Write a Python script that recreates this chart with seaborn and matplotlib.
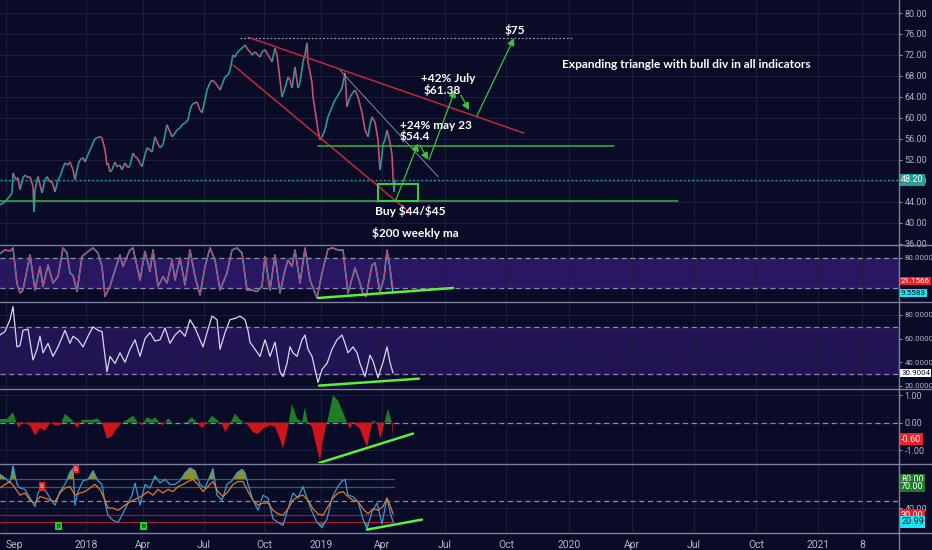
import matplotlib
matplotlib.use("Agg")
import matplotlib.pyplot as plt
import seaborn as sns
import numpy as np
from matplotlib.collections import LineCollection
from matplotlib.lines import Line2D
from matplotlib.patches import Rectangle

# ---------------- data ----------------
price_t = [0, 5, 10, 12, 13, 16, 18, 20, 23, 25, 28, 30, 33, 34, 35, 38, 42, 45, 47, 50, 52, 55, 58, 60,
           63, 65, 68, 70, 73, 75, 78, 80, 83, 85, 88, 90, 93, 95, 97, 100, 102, 105, 107, 108, 110, 112,
           115, 117, 120, 122, 125, 128, 130, 133, 135, 137, 140, 142, 145, 147, 150, 152, 155, 157, 160,
           163, 165, 167, 170, 172, 175, 177, 180, 182, 185, 188, 190, 192, 195, 197, 200, 202, 205, 207,
           210, 212, 215, 217, 220, 222, 225, 228, 230, 233, 235, 237, 240, 242, 245, 248, 250, 252, 255,
           258, 260, 262, 265, 268, 270, 272, 275, 277, 278, 280, 282, 285, 288, 290, 292, 295, 298, 300,
           303, 305, 307, 308, 310, 312, 313, 315, 318, 320, 322, 325, 328, 330, 332, 335, 337, 340, 342,
           345, 347, 350, 352, 355, 358, 360, 362, 365, 368, 370, 372, 375, 378, 380, 382, 383, 385, 387,
           390, 392, 393, 394, 395]
price_close = [43.4, 44.0, 45.1, 45.7, 49.5, 48.2, 48.6, 46.3, 48.6, 49.1, 48.6, 48.8, 46.9, 42.1, 46.3,
               48.8, 45.7, 48.2, 48.8, 47.8, 47.8, 45.9, 48.2, 48.8, 50.5, 51.4, 51.0, 51.6, 50.1, 48.2,
               51.0, 52.0, 52.4, 51.6, 53.0, 53.9, 55.2, 56.0, 56.2, 56.4, 56.2, 53.9, 51.0, 51.4, 49.7,
               50.1, 51.6, 50.7, 51.0, 50.1, 51.4, 50.5, 50.9, 53.3, 52.6, 52.4, 51.4, 50.7, 53.0, 54.3,
               53.9, 53.5, 56.4, 55.4, 54.3, 54.9, 56.8, 58.7, 57.3, 56.4, 57.1, 57.7, 58.1, 58.7, 59.0,
               59.6, 61.5, 62.5, 62.9, 63.0, 61.5, 61.0, 63.4, 65.3, 66.7, 67.2, 66.7, 66.3, 65.3, 66.3,
               67.8, 68.2, 69.1, 72.0, 71.6, 72.4, 73.0, 73.3, 73.9, 73.0, 72.6, 72.0, 72.6, 72.0, 71.6,
               72.6, 73.0, 72.0, 71.4, 70.7, 73.3, 72.0, 70.5, 67.2, 64.0, 65.7, 67.8, 67.2, 65.7, 69.7,
               65.7, 66.7, 70.7, 72.0, 74.3, 70.5, 68.8, 66.7, 64.0, 61.5, 57.7, 55.8, 56.4, 57.7, 60.2,
               61.1, 62.1, 63.4, 64.0, 65.0, 65.7, 68.6, 62.1, 64.0, 64.6, 65.3, 64.0, 62.5, 61.0, 57.7,
               56.4, 58.7, 60.2, 59.2, 55.8, 50.1, 53.0, 55.0, 55.8, 57.7, 55.2, 53.0, 48.8, 45.9, 48.2]

stoch_t = [0, 5, 10, 13, 17, 20, 23, 30, 35, 40, 43, 48, 53, 58, 63, 67, 70, 73, 77, 82, 88, 93, 98, 102,
           105, 110, 115, 120, 123, 127, 130, 133, 137, 140, 145, 150, 153, 158, 163, 167, 172, 175, 180,
           185, 190, 195, 200, 205, 210, 215, 220, 227, 232, 237, 242, 247, 252, 257, 262, 265, 270, 275,
           280, 285, 288, 292, 295, 300, 305, 310, 317, 322, 328, 333, 338, 343, 348, 355, 360, 363, 366,
           372, 375, 380, 384, 387, 390, 393]
stoch_k = [89, 96, 94, 100, 29, 10, 16, 86, 16, 63, 23, 66, 30, 43, 100, 90, 50, 45, 13, 83, 93, 100, 90,
           63, 3, 23, 56, 86, 63, 83, 96, 100, 63, 36, 93, 53, 96, 23, 43, 30, 76, 36, 80, 26, 96, 43, 6,
           63, 100, 76, 16, 50, 96, 100, 90, 16, 16, 13, 23, 83, 16, 86, 10, 56, 76, 63, 96, 30, 100, 36,
           0, 50, 98, 100, 96, 96, 10, 60, 30, 8, 3, 66, 70, 12, 40, 96, 60, 9.56]
stoch_d = stoch_k[:-1] + [21.16]

rsi_t = [0, 5, 10, 13, 17, 20, 23, 28, 33, 37, 40, 43, 48, 53, 58, 65, 70, 73, 78, 83, 88, 93, 98, 102,
         105, 107, 110, 115, 120, 125, 130, 135, 140, 145, 150, 155, 160, 165, 170, 175, 180, 185, 190,
         195, 200, 203, 207, 212, 217, 220, 225, 230, 235, 240, 245, 248, 250, 255, 260, 265, 270, 275,
         280, 283, 287, 290, 293, 297, 302, 305, 308, 312, 315, 318, 322, 327, 332, 337, 342, 345, 348,
         353, 357, 360, 365, 370, 373, 378, 383, 387, 390, 393]
rsi_v = [63, 66, 76, 87, 53, 54, 67, 68, 42, 51, 62, 48, 56, 45, 53, 67, 56, 62, 59, 53, 62, 70, 67, 66,
         45, 32, 45, 39, 48, 40, 51, 59, 45, 60, 65, 58, 59, 69, 56, 63, 67, 62, 76, 69, 59, 53, 65, 79,
         76, 51, 65, 76, 77, 79, 76, 67, 57, 51, 45, 59, 45, 57, 32, 28, 39, 53, 48, 45, 59, 63, 51, 45,
         34, 23, 34, 39, 51, 59, 63, 56, 48, 53, 48, 39, 28, 46, 41, 27, 40, 53, 40, 30.9]

osc_t = [0, 7, 13, 18, 23, 30, 35, 40, 45, 50, 55, 60, 65, 72, 77, 82, 87, 92, 97, 102, 107, 112, 117,
         122, 127, 133, 138, 142, 147, 152, 155, 160, 163, 168, 173, 182, 187, 192, 197, 202, 207, 212,
         217, 222, 225, 230, 235, 240, 247, 253, 258, 263, 270, 275, 280, 283, 287, 292, 297, 302, 305,
         308, 312, 317, 320, 323, 328, 333, 338, 343, 347, 350, 353, 360, 367, 370, 373, 377, 380, 383,
         388, 392, 393]
osc_v = [0.13, 0.13, 0.38, -0.17, 0, -0.1, -0.47, -0.2, -0.3, 0, -0.1, -0.1, 0.32, 0.1, -0.2, 0.1, 0.1,
         0.1, 0.15, 0, -0.59, -0.5, -0.2, 0, 0.1, 0.25, 0, -0.1, 0.2, 0.1, 0.2, 0, -0.1, 0.15, 0, 0, 0.03,
         0.2, 0, -0.2, 0, 0.25, 0.1, -0.05, -0.35, -0.05, 0.33, 0.1, -0.05, -0.35, -0.41, -0.23, -0.1,
         -0.16, -0.59, -0.96, -0.35, 0.68, 0.15, 0.03, 0.56, 0, -0.16, -0.96, -1.38, -0.6, 0.15, 1.0, 0.8,
         0.38, 0, -0.23, 0, -0.23, -0.9, -0.35, 0.08, 0, -0.59, -0.23, 0.5, 0, -0.6]

mfi_t = [0, 5, 10, 13, 17, 20, 25, 30, 35, 38, 42, 47, 52, 55, 60, 65, 70, 73, 75, 78, 83, 88, 93, 98,
         102, 105, 108, 113, 118, 122, 127, 132, 135, 140, 145, 150, 155, 160, 165, 170, 175, 180, 185,
         190, 195, 200, 205, 208, 213, 217, 222, 227, 232, 237, 242, 245, 248, 253, 258, 263, 268, 273,
         278, 283, 288, 293, 298, 303, 307, 312, 317, 322, 327, 332, 337, 342, 345, 348, 353, 358, 363,
         367, 372, 377, 382, 387, 390, 393]
mfi_blue = [87, 82, 75, 99, 73, 68, 66, 54, 42, 61, 70, 61, 49, 44, 63, 73, 90, 95, 44, 63, 78, 80, 92,
            78, 73, 47, 30, 23, 20, 30, 44, 58, 75, 44, 73, 68, 85, 75, 80, 73, 73, 78, 89, 96, 92, 73,
            68, 78, 95, 58, 51, 73, 78, 89, 94, 89, 73, 51, 37, 58, 54, 25, 20, 16, 39, 61, 54, 70, 54,
            35, 20, 13, 25, 54, 68, 78, 80, 58, 56, 49, 25, 11, 35, 47, 18, 54, 35, 21]
orange_t = [0, 5, 10, 15, 20, 25, 30, 35, 40, 45, 50, 55, 60, 65, 70, 75, 80, 85, 90, 95, 100, 105, 108,
            113, 118, 123, 128, 133, 138, 143, 148, 153, 158, 163, 168, 173, 178, 183, 188, 193, 198,
            203, 208, 213, 218, 223, 228, 233, 238, 243, 248, 253, 258, 263, 268, 273, 278, 283, 288,
            293, 298, 303, 308, 313, 318, 323, 328, 333, 338, 343, 348, 353, 358, 363, 368, 373, 378,
            383, 387, 390, 393]
mfi_orange = [68, 73, 77, 68, 58, 61, 51, 47, 56, 54, 51, 49, 61, 68, 70, 58, 61, 63, 68, 73, 66, 51,
              40, 40, 37, 42, 47, 51, 54, 58, 63, 58, 66, 61, 66, 63, 70, 73, 77, 80, 73, 63, 70, 77,
              63, 56, 63, 73, 77, 77, 63, 51, 44, 47, 47, 37, 32, 30, 39, 51, 56, 58, 51, 39, 32, 30,
              42, 54, 61, 63, 56, 51, 49, 39, 32, 39, 37, 42, 54, 44, 32]

# markers on bottom panel
sig_t = [42, 76, 58, 143]
sig_v = [70, 94, 15, 15]
sig_lab = ["S", "S", "B", "B"]

# drawing (trend lines etc.) in data units
res_top = ([240, 572], [75.3, 75.3])
tri_upper = ([248, 524], [75.4, 57.1])
tri_lower = ([233, 410], [70.1, 41.9])
thin_diag = ([340, 438], [69.1, 48.8])
green_mid = ([318, 614], [54.7, 54.7])
green_low = ([0, 678], [44.2, 44.2])
last_price = 48.20
buy_box = (378, 44.2, 40, 3.2)
arrows = [((396, 44.4), (418, 55.1)), ((420, 54.8), (428, 52.0)), ((429, 52.0), (455, 65.3)),
          ((461, 64.3), (469, 61.5)), ((477, 60.4), (514, 75.2))]
div_stoch = ([318, 453], [0, 20])
div_rsi = ([319, 419], [20.3, 26.2])
div_osc = ([319, 413], [-1.47, -0.4])
div_mfi = ([367, 422], [10, 24])

x_tick_pos = [6, 86, 143, 204, 264, 321, 382, 445, 506, 569, 632, 694, 756, 818, 862]
x_tick_labels = ["Sep", "2018", "Apr", "Jul", "Oct", "2019", "Apr", "Jul", "Oct", "2020", "Apr", "Jul",
                 "Oct", "2021", "8"]

# ---------------- style ----------------
BG = "#0a0b27"
GRID = "#1b1d3c"
AXTXT = "#b2b5be"
SEP = "#7d80a0"
DASH = "#8a8cab"

sns.set_theme(style="dark", rc={"axes.facecolor": BG, "figure.facecolor": BG})
plt.rcParams["font.family"] = ["Roboto", "DejaVu Sans"]

W, H = 932, 550
fig = plt.figure(figsize=(W / 100, H / 100), dpi=100)
AXW = 899 / W


def mkax(top, bottom):
    return fig.add_axes([0, 1 - bottom / H, AXW, (bottom - top) / H])


ax0 = mkax(0, 244)
ax1 = mkax(245, 301)
ax2 = mkax(302, 388)
ax3 = mkax(389, 463)
ax4 = mkax(464, 532)
axes = [ax0, ax1, ax2, ax3, ax4]

for ax in axes:
    ax.set_facecolor(BG)
    ax.set_xlim(0, 899)
    for s in ax.spines.values():
        s.set_visible(False)
    ax.set_xticks(x_tick_pos)
    ax.grid(True, axis="both", color=GRID, linewidth=0.8)
    ax.yaxis.tick_right()
    ax.tick_params(axis="y", colors=AXTXT, labelsize=6.5, length=2.5, width=0.6, pad=1.5, labelcolor=AXTXT)
    ax.tick_params(axis="x", length=0, labelbottom=False)
    ax.set_xlabel("")
    ax.set_ylabel("")
for ax in (ax1, ax2):
    ax.tick_params(axis="y", labelsize=5.7)

ax4.tick_params(axis="x", labelbottom=True, colors=AXTXT, labelsize=7.5, length=3, width=0.6, pad=3)
ax4.set_xticklabels(x_tick_labels)
first_lab = ax4.get_xticklabels()[0]
first_lab.set_ha("left")


def tag(ax, y, text, fc, tc="white", size=6.5):
    ax.annotate(text, xy=(1, y), xycoords=("axes fraction", "data"), xytext=(1.5, 0),
                textcoords="offset points", ha="left", va="center", fontsize=size, color=tc,
                bbox=dict(boxstyle="square,pad=0.15", fc=fc, ec="none"), annotation_clip=False, zorder=10)


def dashed(ax, y):
    ax.axhline(y, color=DASH, lw=0.9, ls=(0, (4, 3)), zorder=2)


# ---------- main price ----------
ax0.set_ylim(35.95, 82.48)
ax0.set_yticks(np.arange(36, 81, 4))
ax0.set_yticklabels([f"{v:.2f}" for v in np.arange(36, 81, 4)])
pts = np.column_stack([price_t, price_close])
segs = np.stack([pts[:-1], pts[1:]], axis=1)
cols = ["#2a9a96" if b >= a else "#c9506a" for a, b in zip(price_close[:-1], price_close[1:])]
ax0.add_collection(LineCollection(segs, colors=cols, linewidths=1.2, zorder=4))

ax0.plot(*res_top, color="#8f92a8", lw=0.9, ls=(0, (1.5, 1.5)), zorder=3)
ax0.plot(*tri_upper, color="#c42a36", lw=1.1, zorder=5)
ax0.plot(*tri_lower, color="#c42a36", lw=1.1, zorder=5)
ax0.plot(*thin_diag, color="#9a9db5", lw=0.6, zorder=5)
ax0.plot(*green_mid, color="#37b537", lw=1.1, zorder=5)
ax0.plot(*green_low, color="#37b537", lw=1.1, zorder=5)
ax0.axhline(last_price, color="#2a8f8f", lw=1.0, ls=(0, (1.5, 1.5)), zorder=3)
ax0.add_patch(Rectangle(buy_box[:2], buy_box[2], buy_box[3], fill=False, ec="#35d035", lw=1.4, zorder=6))
for (x0, y0), (x1, y1) in arrows:
    ax0.annotate("", xy=(x1, y1), xytext=(x0, y0),
                 arrowprops=dict(arrowstyle="-|>,head_length=0.35,head_width=0.18", color="#3cc43c",
                                 lw=0.9, shrinkA=0, shrinkB=0), zorder=6)
tag(ax0, last_price, "48.20", "#2a9d8f")

TF = dict(color="white", fontweight="bold", fontsize=8.6, family=["Lato", "DejaVu Sans"], va="center",
          ha="left", zorder=8)
ax0.text(505, 76.76, r"\$75", **TF)
ax0.text(421, 67.43, "+42% July", **TF)
ax0.text(424, 65.33, r"\$61.38", **TF)
ax0.text(400, 58.48, "+24% may 23", **TF)
ax0.text(400, 56.57, r"\$54.4", **TF)
ax0.text(375, 42.29, r"Buy \$44/\$45", **TF)
ax0.text(372, 38.1, r"\$200 weekly ma", **TF)
ax0.text(562, 70.1, "Expanding triangle with bull div in all indicators", **TF)

# ---------- stoch RSI ----------
ax1.set_ylim(-6, 106)
ax1.set_yticks([80])
ax1.set_yticklabels(["80.0000"])
ax1.axhspan(20, 80, color="#2a1763", zorder=0.5)
dashed(ax1, 80)
dashed(ax1, 20)
sns.lineplot(x=stoch_t, y=stoch_k, ax=ax1, color="#2fd0e0", lw=1.1, estimator=None, sort=False, zorder=4)
sns.lineplot(x=stoch_t, y=stoch_d, ax=ax1, color="#c23b6a", lw=0.8, estimator=None, sort=False, zorder=5)
ax1.plot(*div_stoch, color="#5cf03c", lw=1.8, zorder=6, solid_capstyle="round")
# red label is pushed up by the chart so both labels stay readable
tag(ax1, 34, "21.1566", "#f0202a", size=5.7)
tag(ax1, 9.5583, "9.5583", "#18e6f0", tc="#0b0c26", size=5.9)

# ---------- RSI ----------
ax2.set_ylim(18.3, 90.9)
ax2.set_yticks([20, 40, 60, 80])
ax2.set_yticklabels(["20.0000", "40.0000", "60.0000", "80.0000"])
ax2.axhspan(30, 70, color="#221455", zorder=0.5)
dashed(ax2, 70)
dashed(ax2, 30)
sns.lineplot(x=rsi_t, y=rsi_v, ax=ax2, color="#dcd6f2", lw=0.9, estimator=None, sort=False, zorder=4)
ax2.plot(*div_rsi, color="#5cf03c", lw=1.8, zorder=6, solid_capstyle="round")
tag(ax2, 30.9004, "30.9004", "white", tc="#0b0c26", size=5.7)

# ---------- oscillator histogram ----------
ax3.set_ylim(-1.47, 1.22)
ax3.set_yticks([-1, 0, 1])
ax3.set_yticklabels(["-1.00", "0.00", "1.00"])
ot = np.array(osc_t, float)
ov = np.array(osc_v, float)
ax3.fill_between(ot, 0, ov, where=ov >= 0, interpolate=True, color="#1e7d25", lw=0, zorder=3)
ax3.fill_between(ot, 0, ov, where=ov <= 0, interpolate=True, color="#d0141c", lw=0, zorder=3)
dashed(ax3, 0)
ax3.plot(*div_osc, color="#5cf03c", lw=1.8, zorder=6, solid_capstyle="round")
tag(ax3, -0.60, "-0.60", "#f0202a")

# ---------- bottom oscillator ----------
ax4.set_ylim(6.7, 101.4)
ax4.set_yticks([40])
ax4.set_yticklabels(["40.00"])
bt = np.array(mfi_t, float)
bv = np.array(mfi_blue, float)
ax4.fill_between(bt, 80, bv, where=bv >= 80, interpolate=True, color="#a8a828", alpha=0.85, lw=0, zorder=2)
ax4.fill_between(bt, 20, bv, where=bv <= 20, interpolate=True, color="#1e8a32", alpha=0.9, lw=0, zorder=2)
for lvl, c in [(80, "#2b6b3a"), (70, "#2b6b3a"), (30, "#8a1e2a"), (20, "#b01e2e")]:
    ax4.plot([0, 394], [lvl, lvl], color=c, lw=0.9, zorder=2.5)
dashed(ax4, 50)
sns.lineplot(x=bt, y=bv, ax=ax4, color="#3a9ad2", lw=0.9, estimator=None, sort=False, zorder=4)
sns.lineplot(x=orange_t, y=mfi_orange, ax=ax4, color="#e07a26", lw=0.9, estimator=None, sort=False, zorder=5)
for st, sv, sl in zip(sig_t, sig_v, sig_lab):
    fc = "#e8222a" if sl == "S" else "#22d02a"
    ax4.text(st, sv, sl, fontsize=4.5, color="white" if sl == "S" else "#0b0c26", ha="center", va="center",
             bbox=dict(boxstyle="square,pad=0.25", fc=fc, ec="none"), zorder=7)
ax4.plot(*div_mfi, color="#5cf03c", lw=1.8, zorder=6, solid_capstyle="round")
tag(ax4, 80, "80.00", "#1e7a26")
tag(ax4, 70, "70.00", "#1e7a26")
tag(ax4, 30, "30.00", "#f0202a")
tag(ax4, 20.99, "20.99", "#18e6f0", tc="#0b0c26")

for ax in axes:
    for lab in ax.get_yticklabels():
        lab.set_color(AXTXT)

# separators and axis line
for yp in [244.5, 301.5, 388.5, 463.5, 532.5]:
    fig.add_artist(Line2D([0, 1], [1 - yp / H, 1 - yp / H], transform=fig.transFigure, color=SEP, lw=1.0))
fig.add_artist(Line2D([AXW, AXW], [0, 1], transform=fig.transFigure, color=SEP, lw=1.0))

fig.savefig("out.png", dpi=100, facecolor=BG)
